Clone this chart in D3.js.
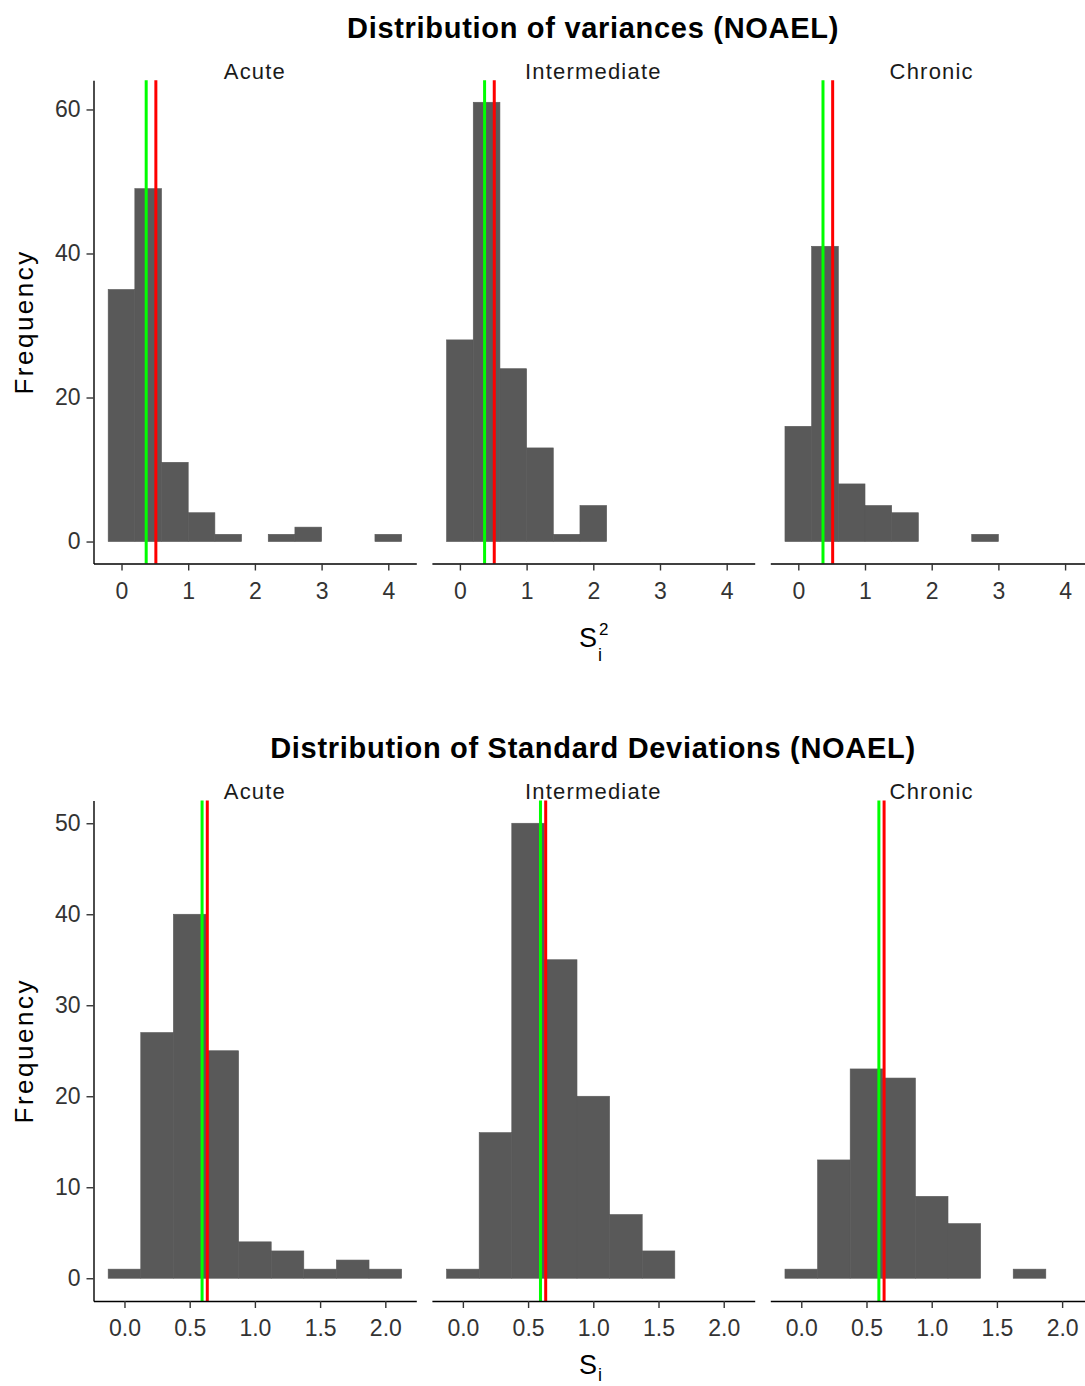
<!DOCTYPE html>
<html>
<head>
<meta charset="utf-8">
<script src="https://cdn.jsdelivr.net/npm/d3@7"></script>
<style>
  body { margin: 0; background: #fff; }
  svg { display: block; font-family: "Liberation Sans", Arial, sans-serif; }
</style>
</head>
<body>
<svg id="chart"></svg>
<script>
// facets
let panels = ["Acute", "Intermediate", "Chronic"]

// variances histogram (bin width 0.4)
let varBreaks = [-0.2, 0.2, 0.6, 1.0, 1.4, 1.8, 2.2, 2.6, 3.0, 3.4, 3.8, 4.2]
let varAcute = [35, 49, 11, 4, 1, 0, 1, 2, 0, 0, 1]
let varIntermediate = [28, 61, 24, 13, 1, 5, 0, 0, 0, 0, 0]
let varChronic = [16, 41, 8, 5, 4, 0, 0, 1, 0, 0, 0]
let varXTicks = [0, 1, 2, 3, 4]
let varYTicks = [0, 20, 40, 60]
let varGreen = 0.37
let varRed = 0.515

// standard deviations histogram (bin width 0.25)
let sdBreaks = [-0.125, 0.125, 0.375, 0.625, 0.875, 1.125, 1.375, 1.625, 1.875, 2.125]
let sdAcute = [1, 27, 40, 25, 4, 3, 1, 2, 1]
let sdIntermediate = [1, 16, 50, 35, 20, 7, 3, 0, 0]
let sdChronic = [1, 13, 23, 22, 9, 6, 0, 1, 0]
let sdXTicks = [0, 0.5, 1.0, 1.5, 2.0]
let sdYTicks = [0, 10, 20, 30, 40, 50]
let sdGreen = 0.595
let sdRed = 0.635

let width = 1085
let height = 1386

let panelLeft = 93.5
let panelStep = 338.4
let panelWidth = 322.8

let barColor = "#595959"
let font = '"Liberation Sans", Arial, sans-serif'

let svg = d3.select("#chart").attr("width", width).attr("height", height)

let drawSection = (opts) => {
    let counts = [opts.acute, opts.intermediate, opts.chronic]
    let maxCount = d3.max(counts.flat())
    let lo = opts.breaks[0], hi = opts.breaks[opts.breaks.length - 1]
    let xPad = (hi - lo) * 0.05

    let y = d3.scaleLinear()
        .domain([-maxCount * 0.05, maxCount * 1.05])
        .range([opts.bottom, opts.top])

    // title
    svg.append("text")
        .attr("x", 593).attr("y", opts.titleY)
        .attr("text-anchor", "middle")
        .style("font-size", "29px").style("font-weight", "bold")
        .style("letter-spacing", "0.7px")
        .attr("fill", "#000")
        .text(opts.title)

    panels.forEach((name, i) => {
        let x0 = panelLeft + i * panelStep
        let x = d3.scaleLinear()
            .domain([lo - xPad, hi + xPad])
            .range([x0, x0 + panelWidth])

        let g = svg.append("g")

        let bins = counts[i].map((c, k) => ({x0: opts.breaks[k], x1: opts.breaks[k + 1], n: c}))
            .filter(d => d.n > 0)

        // bars, with a same-colour stroke so neighbours join without seams
        g.selectAll("rect").data(bins).enter().append("rect")
            .attr("x", d => x(d.x0))
            .attr("width", d => x(d.x1) - x(d.x0))
            .attr("y", d => y(d.n))
            .attr("height", d => y(0) - y(d.n))
            .attr("fill", barColor)
            .attr("stroke", barColor)
            .attr("stroke-width", 0.6)

        // reference lines
        let vlines = [{v: opts.green, c: "#00FF00"}, {v: opts.red, c: "#FF0000"}]
        g.selectAll("line.vl").data(vlines).enter().append("line")
            .attr("class", "vl")
            .attr("x1", d => x(d.v)).attr("x2", d => x(d.v))
            .attr("y1", opts.top).attr("y2", opts.bottom)
            .attr("stroke", d => d.c).attr("stroke-width", 3)

        // strip label
        svg.append("text")
            .attr("x", x0 + panelWidth / 2).attr("y", opts.stripY)
            .attr("text-anchor", "middle")
            .style("font-size", "22px").style("letter-spacing", "1.2px")
            .attr("fill", "#1a1a1a")
            .text(name)

        // x axis
        let xAxis = d3.axisBottom(x)
            .tickValues(opts.xTicks)
            .tickFormat(opts.xFormat)
            .tickSizeInner(7).tickSizeOuter(0).tickPadding(12)
        let gx = svg.append("g")
            .attr("transform", "translate(0," + opts.bottom + ")")
            .call(xAxis)
        gx.select(".domain").attr("stroke", "#000").attr("stroke-width", 1.4)
        gx.selectAll(".tick line").attr("stroke", "#333").attr("stroke-width", 1.4)
        gx.selectAll(".tick text").attr("fill", "#333")
            .style("font-size", "23px").style("font-family", font)

        // y axis only on first facet
        if (i === 0) {
            let yAxis = d3.axisLeft(y)
                .tickValues(opts.yTicks)
                .tickSizeInner(7).tickSizeOuter(0).tickPadding(6)
            let gy = svg.append("g")
                .attr("transform", "translate(" + x0 + ",0)")
                .call(yAxis)
            gy.select(".domain").attr("stroke", "#000").attr("stroke-width", 1.4)
            gy.selectAll(".tick line").attr("stroke", "#333").attr("stroke-width", 1.4)
            gy.selectAll(".tick text").attr("fill", "#333")
                .style("font-size", "23px").style("font-family", font)
        }
    })

    // y axis title
    svg.append("text")
        .attr("transform", "translate(33," + ((opts.top + opts.bottom) / 2) + ") rotate(-90)")
        .attr("text-anchor", "middle")
        .style("font-size", "26px").style("letter-spacing", "2.5px")
        .attr("fill", "#000")
        .text("Frequency")

    // x axis title: S with subscript i (and optional superscript)
    let s = svg.append("text")
        .attr("y", opts.xTitleY)
        .style("font-size", "27px")
        .attr("fill", "#000")
        .text("S")
    let sw = s.node().getComputedTextLength()
    let sx = 592 - (sw + 8) / 2
    s.attr("x", sx)
    svg.append("text")
        .attr("x", sx + sw + 1).attr("y", opts.xTitleY + opts.subDy)
        .style("font-size", "18px").attr("fill", "#000")
        .text("i")
    if (opts.sup) {
        svg.append("text")
            .attr("x", sx + sw + 2).attr("y", opts.xTitleY - 12)
            .style("font-size", "17px").attr("fill", "#000")
            .text(opts.sup)
    }
}

drawSection({
    title: "Distribution of variances (NOAEL)",
    titleY: 38, stripY: 79, top: 80.3, bottom: 563.5, xTitleY: 647, subDy: 14,
    breaks: varBreaks, acute: varAcute, intermediate: varIntermediate, chronic: varChronic,
    xTicks: varXTicks, yTicks: varYTicks, xFormat: d3.format("d"),
    green: varGreen, red: varRed, sup: "2"
})

drawSection({
    title: "Distribution of Standard Deviations (NOAEL)",
    titleY: 758, stripY: 799, top: 800.5, bottom: 1301, xTitleY: 1374, subDy: 7,
    breaks: sdBreaks, acute: sdAcute, intermediate: sdIntermediate, chronic: sdChronic,
    xTicks: sdXTicks, yTicks: sdYTicks, xFormat: d3.format(".1f"),
    green: sdGreen, red: sdRed, sup: null
})
</script>
</body>
</html>
